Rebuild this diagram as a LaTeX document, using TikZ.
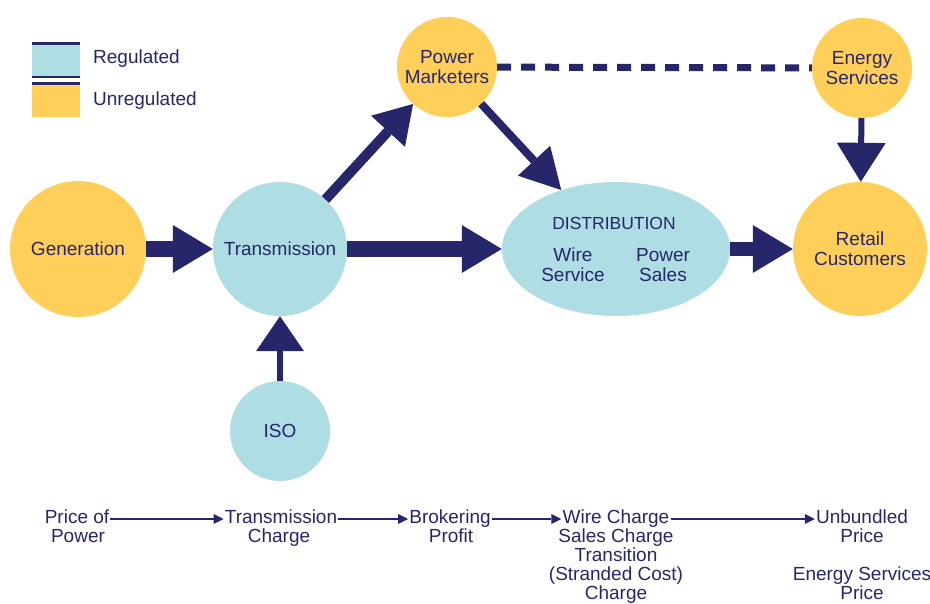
\documentclass[tikz,border=0pt]{standalone}
\usepackage{fontspec}
\setmainfont{Liberation Sans}
\usetikzlibrary{arrows.meta,shapes.geometric}
\definecolor{navy}{HTML}{27266B}
\definecolor{regblue}{HTML}{AEDDE3}
\definecolor{unregyellow}{HTML}{FFCF5A}
\begin{document}
\begin{tikzpicture}[x=1pt,y=-1pt,
  every node/.style={text=navy, font=\fontsize{19}{20}\selectfont},
  regnode/.style={circle, fill=regblue, inner sep=0pt, align=center},
  unregnode/.style={circle, fill=unregyellow, inner sep=0pt, align=center},
  fatarrow/.style={draw=navy, line width=#1},
  tipA/.style={-{Triangle[length=40pt 0 0, width=48pt 0 0, line width=0pt]}},
  flowline/.style={inner sep=1pt, text height=14pt, text depth=5pt},
  flowarrow/.style={draw=navy, line width=2.8pt, -{Triangle[length=10pt 0 0, width=10pt 0 0, line width=0pt]}}
]
\useasboundingbox (0,0) rectangle (930,604);

% legend
\fill[regblue] (32,45) rectangle (80,76);
\fill[unregyellow] (32,85) rectangle (80,117);
\draw[navy, line width=3pt] (32,43.5) -- (80,43.5);
\draw[navy, line width=2.5pt] (32,77) -- (80,77);
\draw[navy, line width=2.5pt] (32,83.5) -- (80,83.5);
\node[anchor=west, inner sep=0pt] (regkey) at (93,59) {Regulated};
\node[anchor=west, inner sep=0pt] (unregkey) at (93,101) {Unregulated};

% market participants
\node[unregnode, minimum size=136pt] (gen) at (78,249) {Generation};
\node[regnode, minimum size=134pt] (trans) at (280,249) {Transmission};
\node[regnode, minimum size=100pt] (iso) at (280,431) {ISO};
\node[unregnode, minimum size=100pt] (pm) at (447,67) {Power\\Marketers};
\node[unregnode, minimum size=100pt] (es) at (862,68) {Energy\\Services};
\node[ellipse, fill=regblue, inner sep=0pt, minimum width=228pt, minimum height=134pt] (dist) at (616,249) {};
\node[unregnode, minimum size=134pt] (retail) at (860,249) {Retail\\Customers};

\node[font=\fontsize{17.5}{20}\selectfont] (distname) at (614,223) {DISTRIBUTION};
\node[align=center] (wire) at (573,265) {Wire\\Service};
\node[align=center] (sales) at (663,265) {Power\\Sales};

% flows between participants
\draw[fatarrow=16pt, tipA] (gen) -- (trans);
\draw[fatarrow=16pt, tipA] (trans) -- (dist);
\draw[fatarrow=14pt, tipA] (dist) -- (retail);
\draw[fatarrow=6pt, -{Triangle[length=35pt 0 0, width=48pt 0 0, line width=0pt]}] (iso) -- (trans);
\draw[fatarrow=6pt, -{Triangle[length=39pt 0 0, width=49pt 0 0, line width=0pt]}] (es) -- (retail);
\draw[fatarrow=10pt, -{Triangle[length=37pt 0 0, width=46pt 0 0, line width=0pt]}] (trans) -- (pm);
\draw[fatarrow=8pt, -{Triangle[length=40pt 0 0, width=44pt 0 0, line width=0pt]}] (pm) -- (dist);
\draw[draw=navy, line width=7pt, dash pattern=on 14pt off 10pt] (pm) -- (es);

% price components
\node[flowline] (price) at (77,519) {Price of};
\node[flowline] (price2) at (78,538) {Power};
\node[flowline] (tcharge) at (281,519) {Transmission};
\node[flowline] (tcharge2) at (279,538) {Charge};
\node[flowline] (broker) at (450,519) {Brokering};
\node[flowline] (broker2) at (451,538) {Profit};
\node[flowline] (wcharge) at (616,519) {Wire Charge};
\node[flowline] (wcharge2) at (616,538) {Sales Charge};
\node[flowline] (wcharge3) at (616,557) {Transition};
\node[flowline] (wcharge4) at (616,576) {(Stranded Cost)};
\node[flowline] (wcharge5) at (616,594.5) {Charge};
\node[flowline] (unbundled) at (862,519) {Unbundled};
\node[flowline] (unbundled2) at (862,538) {Price};
\node[flowline] (esprice) at (862,576) {Energy Services};
\node[flowline] (esprice2) at (862,594.5) {Price};

\draw[flowarrow] (price) -- (tcharge);
\draw[flowarrow] (tcharge) -- (broker);
\draw[flowarrow] (broker) -- (wcharge);
\draw[flowarrow] (wcharge) -- (unbundled);
\end{tikzpicture}
\end{document}
